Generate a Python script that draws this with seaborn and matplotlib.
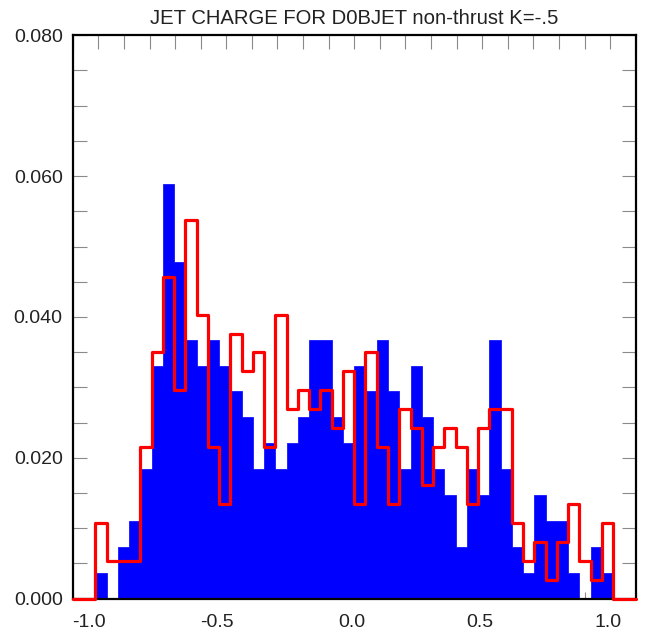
import numpy as np
import pandas as pd
import matplotlib
matplotlib.use("Agg")
import matplotlib.pyplot as plt
import matplotlib.transforms as mtransforms
from matplotlib.ticker import FixedLocator, MultipleLocator
import seaborn as sns

# Jet charge distribution: 46 equal-width bins
bin_lo, bin_hi, n_bins = -1.012, 1.012, 46

# Entries per bin for the filled (blue) sample
filled_counts = [1, 0, 2, 3, 5, 9, 16, 13, 10, 9, 10, 9, 8, 7, 5, 6, 5, 6, 7, 10,
                 10, 7, 6, 9, 8, 10, 8, 5, 9, 7, 5, 4, 2, 5, 4, 10, 5, 2, 1, 4,
                 3, 3, 1, 0, 2, 1]
# Entries per bin for the outlined (red) sample
outline_counts = [4, 2, 2, 2, 8, 13, 17, 11, 20, 15, 8, 5, 14, 12, 13, 8, 15, 10, 11, 10,
                  11, 9, 12, 5, 13, 8, 5, 10, 9, 6, 8, 9, 8, 5, 9, 10, 10, 4, 2, 3,
                  1, 3, 5, 2, 1, 4]

x_limits = (-1.1, 1.1)
y_limits = (0.0, 0.08)
x_ticks = [-1.0, -0.5, 0.0, 0.5, 1.0]
x_tick_labels = ["-1.0", "-0.5", "0.0", "0.5", "1.0"]
y_ticks = [0.0, 0.02, 0.04, 0.06, 0.08]
y_tick_labels = ["0.000", "0.020", "0.040", "0.060", "0.080"]
title = "JET CHARGE FOR D0BJET non-thrust K=-.5"

sns.set_style("white")
plt.rcParams["font.family"] = ["Liberation Sans", "DejaVu Sans"]

edges = np.linspace(bin_lo, bin_hi, n_bins + 1)
centers = 0.5 * (edges[:-1] + edges[1:])
# outline histogram runs along zero out to the frame on both sides
outline_edges = [x_limits[0]] + edges.tolist() + [x_limits[1]]

filled_df = pd.DataFrame({"charge": centers, "entries": filled_counts})
outline_df = pd.DataFrame({"charge": centers, "entries": outline_counts})

fig = plt.figure(figsize=(6.54, 6.37), dpi=100)
ax = fig.add_axes([0.1112, 0.0604, 0.8609, 0.8842])

# filled sample as one stepped area (no seams between bins)
sns.histplot(data=filled_df, x="charge", weights="entries", bins=edges.tolist(),
             stat="probability", element="step", fill=True, color="#0000ff",
             edgecolor="#0000ff", linewidth=0.5, alpha=1.0, ax=ax)
n_lines = len(ax.lines)
sns.histplot(data=outline_df, x="charge", weights="entries", bins=outline_edges,
             stat="probability", element="step", fill=False, color="#ff0000",
             linewidth=2.3, ax=ax)
for ln in ax.lines[n_lines:]:
    ln.set_clip_on(False)
    ln.set_zorder(3)

ax.set_xlim(*x_limits)
ax.set_ylim(*y_limits)
ax.set_xlabel("")
ax.set_ylabel("")

tick_grey = "#8a8a8a"
label_size = 14
ax.xaxis.set_major_locator(FixedLocator(x_ticks))
ax.set_xticklabels(x_tick_labels)
ax.xaxis.set_minor_locator(MultipleLocator(0.1))
ax.tick_params(axis="x", which="major", direction="in", length=10, width=0.8,
               color=tick_grey, bottom=True, top=False, pad=11.5,
               labelsize=label_size, labelcolor="#222222")
ax.tick_params(axis="x", which="minor", direction="in", length=5, width=0.8,
               color=tick_grey, bottom=True, top=False)

ax.yaxis.set_major_locator(FixedLocator(y_ticks))
ax.set_yticklabels(y_tick_labels)
ax.yaxis.set_minor_locator(MultipleLocator(0.005))
ax.tick_params(axis="y", which="both", direction="in", length=10, width=0.8,
               color=tick_grey, left=True, right=True, pad=7.2,
               labelsize=label_size, labelcolor="#222222")

# top edge ticks every 0.1
top = ax.secondary_xaxis("top")
top.xaxis.set_major_locator(MultipleLocator(0.1))
top.tick_params(direction="in", length=10, width=0.8, color=tick_grey,
                labeltop=False)
for sp in top.spines.values():
    sp.set_visible(False)

for sp in ax.spines.values():
    sp.set_visible(True)
    sp.set_color("black")
    sp.set_linewidth(1.6)

# negative labels hang slightly to the left of their ticks
for lab, val in zip(ax.get_xticklabels(), x_ticks):
    dx = -9 if val < 0 else -2
    lab.set_transform(lab.get_transform() +
                      mtransforms.ScaledTranslation(dx / 100, 0, fig.dpi_scale_trans))

ax.set_title(title, fontsize=14.6, pad=8.3, color="#222222")

fig.savefig("out.png", dpi=100)
